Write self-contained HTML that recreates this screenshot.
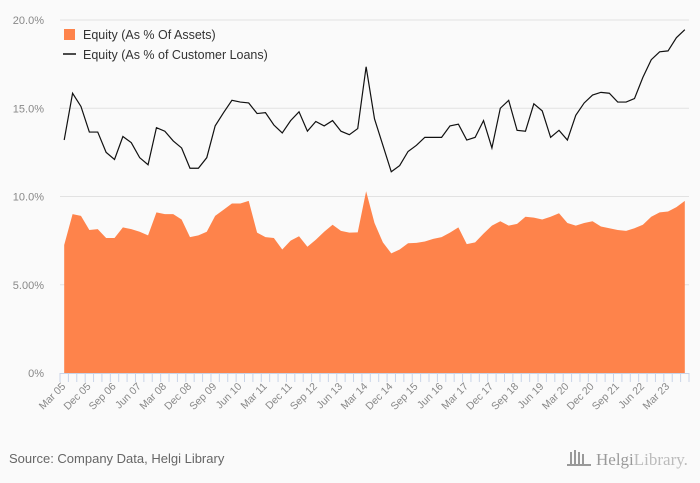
<!DOCTYPE html>
<html><head><meta charset="utf-8"><style>
body{margin:0;background:#fafafa;font-family:"Liberation Sans",sans-serif}
svg{display:block}
</style></head><body>
<svg id="chart" width="700" height="483">
<rect width="700" height="483" fill="#fafafa"/>
<g id="grid"></g><g id="area"></g><g id="line"></g><g id="axes"></g>
<g>
<rect x="64" y="29" width="11" height="11" fill="#fe834b"/>
<text x="83" y="39" font-size="12.5" fill="#333">Equity (As % Of Assets)</text>
<line x1="63" y1="54" x2="76" y2="54" stroke="#111" stroke-width="1.5"/>
<text x="83" y="59" font-size="12.5" fill="#333">Equity (As % of Customer Loans)</text>
</g>
<text x="9" y="463" font-size="13" fill="#666">Source: Company Data, Helgi Library</text>
<g fill="#999">
<rect x="570" y="452" width="2" height="12"/><rect x="574" y="450" width="2" height="14"/><rect x="578" y="452" width="2" height="12"/><rect x="582" y="454" width="2" height="10"/><rect x="567" y="464" width="24" height="2"/>
<text x="596" y="465" font-size="17" font-family="Liberation Serif,serif" fill="#999">Helgi<tspan fill="#bbb">Library.</tspan></text>
</g>
</svg>
<script>
const categories=[];
const months=["Mar","Jun","Sep","Dec"];
for(let i=0;i<75;i++){const y=5+Math.floor(i/4);categories.push(months[i%4]+" "+String(y).padStart(2,"0"));}
const assetsValues=[7.25,9.0,8.9,8.1,8.15,7.65,7.65,8.25,8.15,8.0,7.8,9.1,9.0,9.0,8.7,7.7,7.8,8.0,8.9,9.25,9.6,9.6,9.75,7.95,7.7,7.65,7.0,7.5,7.75,7.15,7.55,8.0,8.4,8.05,7.95,7.97,10.3,8.5,7.4,6.78,7.0,7.35,7.37,7.45,7.6,7.7,7.95,8.25,7.3,7.4,7.9,8.35,8.6,8.35,8.45,8.85,8.8,8.7,8.85,9.05,8.5,8.35,8.5,8.6,8.3,8.2,8.1,8.05,8.2,8.4,8.85,9.1,9.15,9.4,9.75];
const loansValues=[13.2,15.85,15.1,13.65,13.65,12.5,12.1,13.4,13.05,12.2,11.8,13.9,13.7,13.15,12.75,11.6,11.6,12.2,14.0,14.75,15.45,15.35,15.3,14.7,14.75,14.05,13.6,14.3,14.8,13.7,14.25,14.0,14.3,13.7,13.5,13.85,17.35,14.4,12.9,11.4,11.75,12.55,12.9,13.35,13.35,13.35,14.0,14.1,13.2,13.35,14.3,12.75,15.0,15.45,13.75,13.7,15.25,14.85,13.35,13.75,13.2,14.6,15.3,15.75,15.9,15.85,15.35,15.35,15.55,16.75,17.75,18.2,18.25,19.0,19.45];
const yTicks=[0,5,10,15,20];
const yTickLabels=["0%","5.00%","10.0%","15.0%","20.0%"];
const NS="http://www.w3.org/2000/svg";
const X0=60,X1=689,Y0=373,Y20=20;
const bw=(X1-X0)/categories.length;
const x=i=>X0+bw*(i+0.5);
const y=v=>Y0-(v/20)*(Y0-Y20);
function mk(tag,attrs,parent){const e=document.createElementNS(NS,tag);for(const k in attrs)e.setAttribute(k,attrs[k]);parent.appendChild(e);return e;}
const grid=document.getElementById("grid"),axes=document.getElementById("axes");
yTicks.forEach((t,k)=>{
 if(t>0){const g=mk("line",{x1:X0,x2:X1,y1:y(t),y2:y(t),stroke:"#e2e2e2","stroke-width":1},grid);
 
 }
 const l=mk("text",{x:44,y:y(t)+4,"text-anchor":"end","font-size":11,fill:"#888"},axes);
 l.textContent=yTickLabels[k];
 
 
});
let d="M"+x(0)+","+y(0);
assetsValues.forEach((v,i)=>{d+=" L"+x(i)+","+y(v);});
d+=" L"+x(assetsValues.length-1)+","+y(0)+" Z";
const ar=mk("path",{d:d,fill:"#fe834b"},document.getElementById("area"));


const pts=loansValues.map((v,i)=>x(i)+","+y(v)).join(" ");
const ln=mk("polyline",{points:pts,fill:"none",stroke:"#111","stroke-width":1.2},document.getElementById("line"));


const ax=mk("line",{x1:X0,x2:X1,y1:Y0+0.5,y2:Y0+0.5,stroke:"#c9d4e8"},axes);


for(let i=0;i<=categories.length;i++){
 const t=mk("line",{x1:X0+bw*i,x2:X0+bw*i,y1:Y0,y2:Y0+9,stroke:"#c9d4e8"},axes);
 
 
}
categories.forEach((c,i)=>{
 if(i%3!==0)return;
 const px=x(i)+2,py=Y0+14;
 const l=mk("text",{x:px,y:py,"text-anchor":"end","font-size":10.5,fill:"#888",transform:"rotate(-45 "+px+" "+py+")"},axes);
 l.textContent=c;
 
 
});
</script>
</body></html>
